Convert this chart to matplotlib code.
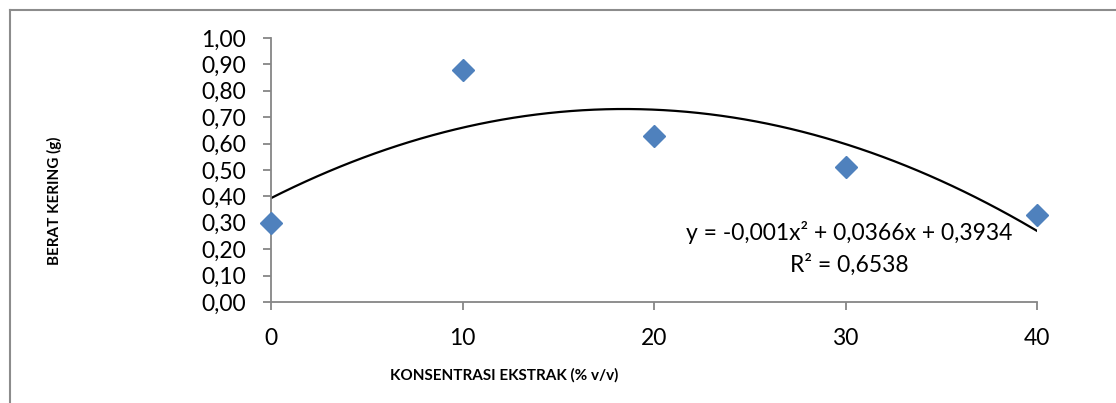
import numpy as np
import matplotlib
matplotlib.use("Agg")
import matplotlib.pyplot as plt
from matplotlib.lines import Line2D

konsentrasi = [0, 10, 20, 30, 40]
berat_kering = [0.30, 0.88, 0.63, 0.51, 0.33]
y_ticks = [0.0, 0.1, 0.2, 0.3, 0.4, 0.5, 0.6, 0.7, 0.8, 0.9, 1.0]
x_ticks = [0, 10, 20, 30, 40]
eq_text = "y = -0,001x² + 0,0366x + 0,3934"
r2_text = "R² = 0,6538"

plt.rcParams['font.family'] = ['Lato', 'DejaVu Sans']

fig = plt.figure(figsize=(11.16, 4.03), dpi=100)
W, H = 1116, 403
ax = fig.add_axes([271 / W, 1 - 302 / H, (1037 - 271) / W, (302 - 38) / H])

# outer chart frame
fig.add_artist(Line2D([10 / W, 10 / W], [0, 1 - 10 / H], transform=fig.transFigure, color='#8c8c8c', lw=1.5))
fig.add_artist(Line2D([10 / W, 1], [1 - 10 / H, 1 - 10 / H], transform=fig.transFigure, color='#8c8c8c', lw=1.5))

coef = np.polyfit(konsentrasi, berat_kering, 2)
xs = np.linspace(0, 40, 200)
ax.plot(xs, np.polyval(coef, xs), color='black', lw=1.6, zorder=2)
ax.plot(konsentrasi, berat_kering, linestyle='none', marker='D', markersize=11,
        color='#4F81BD', markeredgecolor='#4F81BD', zorder=3, clip_on=False)

ax.set_xlim(0, 40)
ax.set_ylim(0, 1.0)
ax.set_xticks(x_ticks)
ax.set_xticklabels([str(v) for v in x_ticks])
ax.set_yticks(y_ticks)
ax.set_yticklabels([f"{v:.2f}".replace('.', ',') for v in y_ticks])

for s in ['top', 'right']:
    ax.spines[s].set_visible(False)
for s in ['left', 'bottom']:
    ax.spines[s].set_color('#868686')
    ax.spines[s].set_linewidth(1.3)
ax.tick_params(axis='both', colors='#868686', labelcolor='black', labelsize=16.5,
               length=6, width=1.3, direction='out')
ax.tick_params(axis='x', pad=13)
ax.tick_params(axis='y', pad=12)

ax.set_xlabel("KONSENTRASI EKSTRAK (% v/v)", fontsize=11, fontweight='bold')
ax.xaxis.set_label_coords((504.5 - 271) / 766, (302 - 375) / 264)
ax.xaxis.label.set_va('center')
ax.set_ylabel("BERAT KERING (g)", fontsize=11, fontweight='bold')
ax.yaxis.set_label_coords((54 - 271) / 766, (302 - 201) / 264)
ax.yaxis.label.set_va('center')

ax.text(30.2, (302 - 233) / 264, eq_text, ha='center', va='center', fontsize=16.5)
ax.text(30.2, (302 - 265) / 264, r2_text, ha='center', va='center', fontsize=16.5)

fig.savefig("out.png", dpi=100)
